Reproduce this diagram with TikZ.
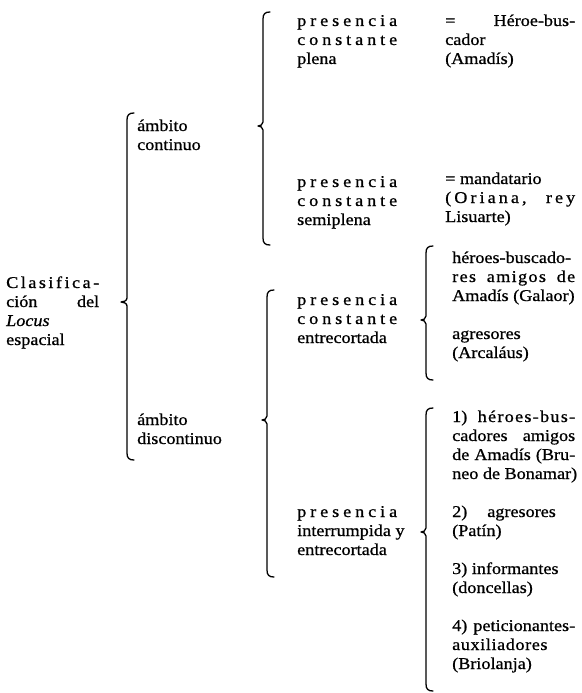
\documentclass[tikz,border=0pt]{standalone}
\usepackage{fontspec}
\setmainfont{Liberation Serif}[FakeStretch=1.1,FakeBold=0.8]
\newcommand\lsp{\hskip 0pt plus 1fil\relax}
\newcommand\wsp{\hskip 4pt plus 5fil\relax}
\newcommand\curlyb[5]{% x, top, tip, bottom, tip x
  \draw[bracestyle] ({#1+7},{#2}) .. controls ({#1+2},{#2}) and ({#1},{#2+2}) .. ({#1},{#2+7})
    -- ({#1},{#3-4}) .. controls ({#1},{#3-1}) and ({#5+2},{#3}) .. ({#5},{#3})
    .. controls ({#5+2},{#3}) and ({#1},{#3+1}) .. ({#1},{#3+4})
    -- ({#1},{#4-7}) .. controls ({#1},{#4-2}) and ({#1+2},{#4}) .. ({#1+7},{#4});}
\tikzset{
  txt/.style={anchor=base west, inner sep=0pt, font=\fontsize{16.5}{19}\selectfont},
  bracestyle/.style={line width=1.3pt, line cap=round, line join=round}
}
\begin{document}
\begin{tikzpicture}[x=1pt,y=-1pt]
\useasboundingbox (0,0) rectangle (581,693);
% column 1
\node[txt] (clas) at (6,288) {\begin{tabular}[t]{@{}l@{}}
\makebox[93pt][s]{C\lsp l\lsp a\lsp s\lsp i\lsp f\lsp i\lsp c\lsp a\lsp -}\\
\makebox[93pt][s]{ción\hfill del}\\
\textit{Locus}\\
espacial\end{tabular}};
% column 2
\node[txt] (acont) at (137,131) {\begin{tabular}[t]{@{}l@{}}ámbito\\continuo\end{tabular}};
\node[txt] (adisc) at (137,425) {\begin{tabular}[t]{@{}l@{}}ámbito\\discontinuo\end{tabular}};
% column 3
\node[txt] (pplena) at (297,26) {\begin{tabular}[t]{@{}l@{}}
\makebox[100pt][s]{p\lsp r\lsp e\lsp s\lsp e\lsp n\lsp c\lsp i\lsp a}\\
\makebox[100pt][s]{c\lsp o\lsp n\lsp s\lsp t\lsp a\lsp n\lsp t\lsp e}\\
plena\end{tabular}};
\node[txt] (psemi) at (297,187) {\begin{tabular}[t]{@{}l@{}}
\makebox[100pt][s]{p\lsp r\lsp e\lsp s\lsp e\lsp n\lsp c\lsp i\lsp a}\\
\makebox[100pt][s]{c\lsp o\lsp n\lsp s\lsp t\lsp a\lsp n\lsp t\lsp e}\\
semiplena\end{tabular}};
\node[txt] (pentre) at (297,305) {\begin{tabular}[t]{@{}l@{}}
\makebox[100pt][s]{p\lsp r\lsp e\lsp s\lsp e\lsp n\lsp c\lsp i\lsp a}\\
\makebox[100pt][s]{c\lsp o\lsp n\lsp s\lsp t\lsp a\lsp n\lsp t\lsp e}\\
entrecortada\end{tabular}};
\node[txt] (pinter) at (297,517) {\begin{tabular}[t]{@{}l@{}}
\makebox[100pt][s]{p\lsp r\lsp e\lsp s\lsp e\lsp n\lsp c\lsp i\lsp a}\\
interrumpida y\\
entrecortada\end{tabular}};
% column 4
\node[txt] (heroe) at (445,26) {\begin{tabular}[t]{@{}l@{}}
\makebox[130pt][s]{=\hfill Héroe-bus-}\\
cador\\
(Amadís)\end{tabular}};
\node[txt] (mand) at (445,184) {\begin{tabular}[t]{@{}l@{}}
= mandatario\\
\makebox[130pt][s]{(\lsp O\lsp r\lsp i\lsp a\lsp n\lsp a\lsp ,\wsp r\lsp e\lsp y}\\
Lisuarte)\end{tabular}};
\node[txt] (galaor) at (452,263) {\begin{tabular}[t]{@{}l@{}}
\makebox[123pt][s]{héroes-buscado-}\\
\makebox[123pt][s]{r\lsp e\lsp s\wsp a\lsp m\lsp i\lsp g\lsp o\lsp s\wsp d\lsp e}\\
Amadís (Galaor)\\
\\
agresores\\
(Arcaláus)\end{tabular}};
\node[txt] (items) at (452,422) {\begin{tabular}[t]{@{}l@{}}
\makebox[123pt][s]{1)\wsp h\lsp é\lsp r\lsp o\lsp e\lsp s\lsp -\lsp b\lsp u\lsp s\lsp -}\\
\makebox[123pt][s]{cadores amigos}\\
\makebox[123pt][s]{de Amadís (Bru-}\\
neo de Bonamar)\\
\\
2)\hspace{20pt}agresores\\
(Patín)\\
\\
3) informantes\\
(doncellas)\\
\\
\makebox[123pt][s]{4) peticionantes-}\\
a\hspace{0.6pt}u\hspace{0.6pt}x\hspace{0.6pt}i\hspace{0.6pt}l\hspace{0.6pt}i\hspace{0.6pt}a\hspace{0.6pt}d\hspace{0.6pt}o\hspace{0.6pt}r\hspace{0.6pt}e\hspace{0.6pt}s\\
(Briolanja)\end{tabular}};
% braces
\curlyb{127}{113}{302}{460}{121}
\curlyb{263}{12}{126}{245}{258}
\curlyb{267}{290}{420}{577}{262}
\curlyb{426}{246}{320}{380}{421}
\curlyb{426}{408}{532}{691}{421}
\end{tikzpicture}
\end{document}
